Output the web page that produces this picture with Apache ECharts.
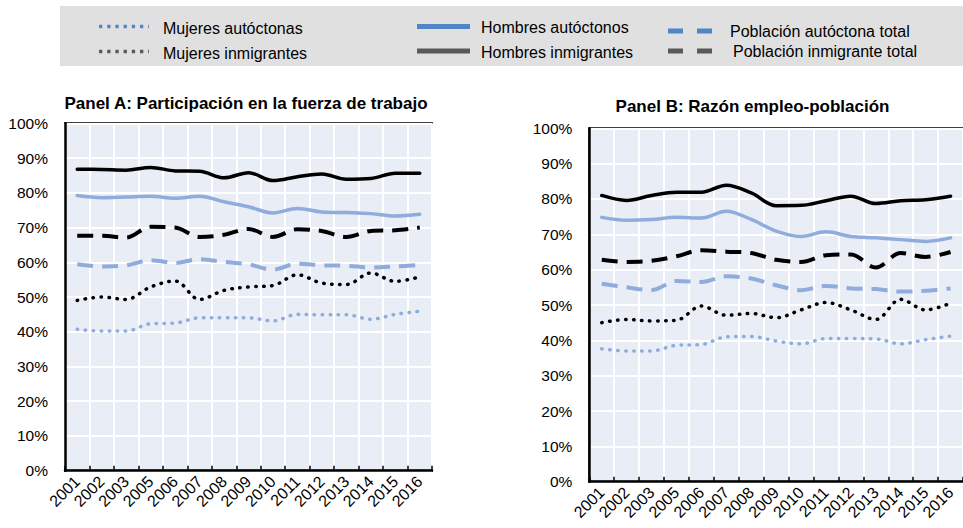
<!DOCTYPE html>
<html><head><meta charset="utf-8">
<script src="https://cdn.jsdelivr.net/npm/echarts@6/dist/echarts.min.js"></script>
<style>html,body{margin:0;padding:0;background:#fff}#c{width:963px;height:528px}</style>
</head><body><div id="c"></div>
<script>
// Categories and tick labels
const years = ['2001','2002','2003','2005','2006','2007','2008','2009','2010','2011','2012','2013','2014','2015','2016'];
const yTickValues = [0,10,20,30,40,50,60,70,80,90,100];

// Legend names
const names = ['Mujeres autóctonas','Mujeres inmigrantes','Hombres autóctonos','Hombres inmigrantes','Población autóctona total','Población inmigrante total'];

// Panel A: Participación en la fuerza de trabajo (%)
const A_mujAut = [40.7,40.2,40.2,42.3,42.5,44.0,44.0,44.0,43.1,45.0,44.9,44.9,43.6,45.0,45.9];
const A_mujInm = [49.0,50.0,49.3,52.9,54.6,49.3,51.9,52.9,53.3,56.4,54.0,53.6,56.9,54.5,55.8];
const A_homAut = [79.2,78.6,78.8,79.0,78.4,79.0,77.4,76.0,74.2,75.5,74.5,74.3,74.0,73.3,73.8];
const A_homInm = [86.8,86.7,86.5,87.3,86.3,86.2,84.3,85.8,83.5,84.6,85.4,83.9,84.1,85.6,85.6];
const A_pobAut = [59.4,58.8,59.1,60.6,59.8,60.9,60.1,59.4,57.9,59.6,59.1,59.0,58.5,58.8,59.2];
const A_pobInm = [67.6,67.6,67.1,70.2,70.0,67.3,67.9,69.6,67.3,69.5,69.0,67.3,69.0,69.2,70.0];

// Panel B: Razón empleo-población (%)
const B_mujAut = [37.6,37.0,37.0,38.6,38.8,41.0,41.1,39.8,39.0,40.5,40.5,40.4,39.0,40.2,41.2];
const B_mujInm = [45.0,45.9,45.5,45.7,49.7,47.1,47.6,46.4,48.6,50.7,48.6,45.9,51.6,48.6,50.5];
const B_homAut = [74.8,74.0,74.2,74.8,74.6,76.5,74.2,70.9,69.4,70.7,69.4,69.0,68.5,68.0,69.0];
const B_homInm = [81.0,79.6,81.0,81.9,81.9,83.9,81.7,78.1,78.2,79.5,80.8,78.7,79.5,79.8,80.8];
const B_pobAut = [56.0,55.0,54.2,56.8,56.5,58.1,57.5,55.6,54.2,55.4,54.7,54.5,53.8,54.0,54.7];
const B_pobInm = [62.8,62.2,62.5,63.8,65.5,65.1,64.7,62.8,62.2,64.1,64.3,60.6,64.7,63.6,65.0];

const BLUE = '#8FACDC', BLACK = '#000000';
const LBLUE = '#4F86C6', LGREY = '#595959';
const FONT = '"Liberation Sans", Arial, sans-serif';

const styles = [
  {color: BLUE, width: 3.5, type: [0.5, 7.5], cap: 'round'},
  {color: BLACK, width: 3.5, type: [0.5, 7.5], cap: 'round'},
  {color: BLUE, width: 3.5, type: 'solid', cap: 'round'},
  {color: BLACK, width: 3.5, type: 'solid', cap: 'round'},
  {color: BLUE, width: 4, type: [16, 9], cap: 'butt'},
  {color: BLACK, width: 4, type: [16, 9], cap: 'butt'}
];
const dataA = [A_mujAut, A_mujInm, A_homAut, A_homInm, A_pobAut, A_pobInm];
const dataB = [B_mujAut, B_mujInm, B_homAut, B_homInm, B_pobAut, B_pobInm];

function mkSeries(idx, arr, i) {
  const s = styles[i];
  return {
    type: 'line', name: names[i], xAxisIndex: idx, yAxisIndex: idx,
    data: arr, smooth: 0.35, symbol: 'none', silent: true,
    lineStyle: {color: s.color, width: s.width, type: s.type, cap: s.cap, join: 'round'}
  };
}
const series = [];
dataA.forEach((arr, i) => series.push(mkSeries(0, arr, i)));
dataB.forEach((arr, i) => series.push(mkSeries(1, arr, i)));

function xAx(gi) {
  return {
    type: 'category', gridIndex: gi, data: years, boundaryGap: true,
    axisLine: {lineStyle: {color: '#000', width: 2.5}},
    axisTick: {show: true, inside: true, length: 5, lineStyle: {color: '#000', width: 1.5}},
    splitLine: {show: true, lineStyle: {color: '#fff', width: 2}},
    axisLabel: {rotate: 45, fontSize: 16, color: '#000', fontFamily: FONT, margin: 8, interval: 0}
  };
}
function yAx(gi) {
  return {
    type: 'value', gridIndex: gi, min: yTickValues[0], max: yTickValues[yTickValues.length-1], interval: 10,
    axisLine: {show: true, lineStyle: {color: '#000', width: 2.5}},
    axisTick: {show: false},
    splitLine: {show: true, lineStyle: {color: '#fff', width: 2}},
    axisLabel: {formatter: '{value}%', fontSize: 15.5, color: '#000', fontFamily: FONT, margin: 17}
  };
}

// Legend (drawn as graphics)
const legendItems = [
  {x1: 99, x2: 149, y: 26.5, tx: 163, ty: 28, st: {stroke: LBLUE, lineWidth: 3.3, lineDash: [3.3, 4.9]}},
  {x1: 99, x2: 149, y: 51.5, tx: 163, ty: 53, st: {stroke: LGREY, lineWidth: 3.3, lineDash: [3.3, 4.9]}},
  {x1: 417, x2: 470, y: 26.5, tx: 481, ty: 27.5, st: {stroke: LBLUE, lineWidth: 5}},
  {x1: 417, x2: 470, y: 51, tx: 481, ty: 52, st: {stroke: LGREY, lineWidth: 5}},
  {x1: 668, x2: 713, y: 31, tx: 730, ty: 31, st: {stroke: LBLUE, lineWidth: 5, lineDash: [15, 14]}},
  {x1: 668, x2: 713, y: 51, tx: 733, ty: 51, st: {stroke: LGREY, lineWidth: 5, lineDash: [15, 14]}}
];
const graphics = [
  {type: 'rect', shape: {x: 60, y: 6, width: 903, height: 60}, style: {fill: '#E0E0E0'}, z: 0, silent: true}
];
legendItems.forEach((it, i) => {
  graphics.push({type: 'line', shape: {x1: it.x1, y1: it.y, x2: it.x2, y2: it.y}, style: Object.assign({fill: null}, it.st), z: 1, silent: true});
  graphics.push({type: 'text', x: it.tx, y: it.ty, style: {text: names[i], font: '16px ' + FONT, fill: '#000', textAlign: 'left', textVerticalAlign: 'middle'}, z: 1, silent: true});
});
graphics.push({type: 'text', x: 246, y: 103, style: {text: 'Panel A: Participación en la fuerza de trabajo', font: 'bold 17px ' + FONT, fill: '#000', textAlign: 'center', textVerticalAlign: 'middle'}, silent: true});
graphics.push({type: 'text', x: 752.5, y: 106.5, style: {text: 'Panel B: Razón empleo-población', font: 'bold 17px ' + FONT, fill: '#000', textAlign: 'center', textVerticalAlign: 'middle'}, silent: true});

const option = {
  animation: false,
  backgroundColor: '#fff',
  grid: [
    {left: 65, top: 123.3, width: 367, height: 347.4, show: true, backgroundColor: '#E9EDF6', borderColor: '#000', borderWidth: 2},
    {left: 589.3, top: 128.3, width: 375, height: 353.4, show: true, backgroundColor: '#E9EDF6', borderColor: '#000', borderWidth: 2}
  ],
  xAxis: [xAx(0), xAx(1)],
  yAxis: [yAx(0), yAx(1)],
  series: series,
  graphic: graphics
};
const chart = echarts.init(document.getElementById('c'), null, {renderer: 'svg'});
chart.setOption(option);
</script></body></html>
